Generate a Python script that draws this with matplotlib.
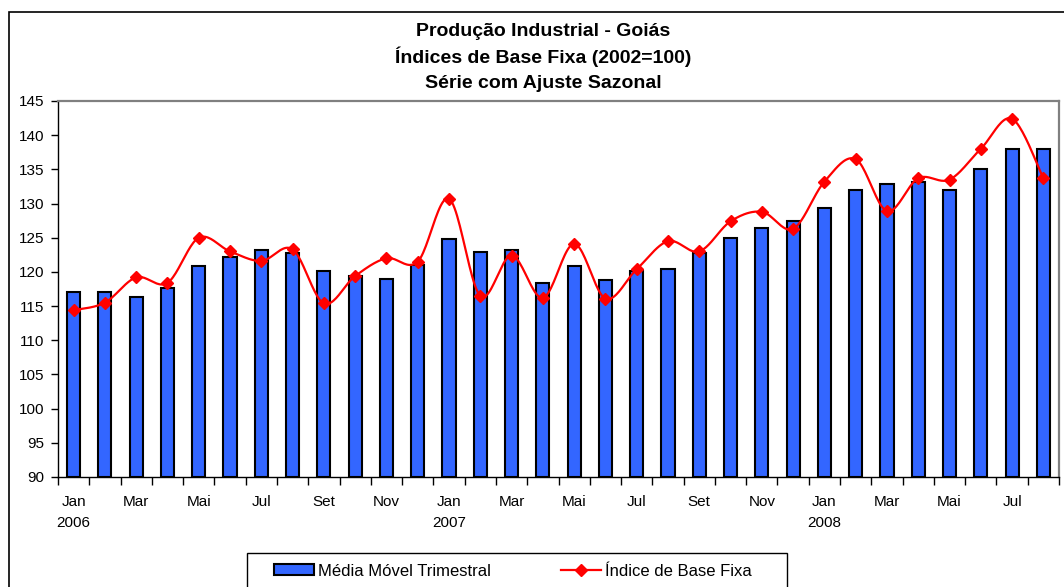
#!/usr/bin/env python3
"""
Produção Industrial - Goiás: média móvel trimestral (barras) e índice de base fixa (linha suavizada).

Output:
- out.png
"""

import numpy as np
import matplotlib
matplotlib.use('Agg')
import matplotlib.pyplot as plt
from matplotlib.patches import Rectangle, Patch
from matplotlib.lines import Line2D

plt.rcParams['font.family'] = ['Liberation Sans', 'DejaVu Sans']

# Jan 2006 .. Ago 2008
months = ['Jan', 'Fev', 'Mar', 'Abr', 'Mai', 'Jun', 'Jul', 'Ago', 'Set', 'Out', 'Nov', 'Dez'] * 2 \
    + ['Jan', 'Fev', 'Mar', 'Abr', 'Mai', 'Jun', 'Jul', 'Ago']
years = ['2006'] * 12 + ['2007'] * 12 + ['2008'] * 8

media_movel = [117.1, 117.1, 116.3, 117.7, 120.9, 122.2, 123.2, 122.8, 120.1, 119.4,
               118.9, 121.0, 124.8, 122.9, 123.2, 118.4, 120.9, 118.8, 120.2, 120.4,
               122.7, 125.0, 126.4, 127.5, 129.4, 132.0, 132.8, 133.1, 132.0, 135.0,
               138.0, 138.0]

indice_base_fixa = [114.4, 115.5, 119.2, 118.4, 125.0, 123.0, 121.6, 123.3, 115.4, 119.4,
                    122.0, 121.5, 130.7, 116.5, 122.4, 116.2, 124.1, 116.1, 120.4, 124.5,
                    123.0, 127.4, 128.8, 126.3, 133.2, 136.5, 128.9, 133.7, 133.5, 138.0,
                    142.4, 133.7]

y_ticks = list(range(90, 146, 5))


def smooth_curve(xs, ys, steps=24):
    """Excel-style smoothed line (Catmull-Rom as cubic Bezier)."""
    xs = np.asarray(xs, float)
    ys = np.asarray(ys, float)
    px = np.concatenate([[xs[0]], xs, [xs[-1]]])
    py = np.concatenate([[ys[0]], ys, [ys[-1]]])
    t = np.linspace(0, 1, steps)[:, None]
    out_x, out_y = [], []
    for i in range(1, len(px) - 2):
        p0 = np.array([px[i], py[i]])
        p3 = np.array([px[i + 1], py[i + 1]])
        c1 = p0 + (np.array([px[i + 1], py[i + 1]]) - np.array([px[i - 1], py[i - 1]])) / 6
        c2 = p3 - (np.array([px[i + 2], py[i + 2]]) - np.array([px[i], py[i]])) / 6
        seg = ((1 - t) ** 3) * p0 + 3 * ((1 - t) ** 2) * t * c1 + 3 * (1 - t) * t ** 2 * c2 + t ** 3 * p3
        out_x.extend(seg[:, 0])
        out_y.extend(seg[:, 1])
    return np.array(out_x), np.array(out_y)


W, H = 1064, 587
fig = plt.figure(figsize=(W / 100, H / 100), dpi=100)
ax = fig.add_axes([58 / W, 1 - 477 / H, (1059 - 58) / W, (477 - 101) / H])

x = np.arange(len(media_movel))
bar_color = '#3366FF'
ax.bar(x, [v - 90 for v in media_movel], bottom=90, width=0.42, color=bar_color,
       edgecolor='black', linewidth=1.5, zorder=2)

sx, sy = smooth_curve(x, indice_base_fixa)
ax.plot(sx, sy, color='#FF0000', linewidth=1.6, zorder=3)
ax.plot(x, indice_base_fixa, linestyle='none', marker='D', markersize=6.5,
        color='#FF0000', zorder=4)

ax.set_xlim(-0.5, len(x) - 0.5)
ax.set_ylim(90, 145)
ax.set_yticks(y_ticks)
ax.tick_params(axis='y', direction='out', length=5, width=1, pad=5, labelsize=11)

# tick marks between categories, labels every two months
ax.set_xticks(np.arange(-0.5, len(x), 1.0))
ax.set_xticklabels([])
ax.tick_params(axis='x', which='major', direction='out', length=6, width=1)
label_pos = x[::2]
labels = [m + ('\n' + y if m == 'Jan' else '') for m, y in zip(months[::2], years[::2])]
ax.set_xticks(label_pos, minor=True)
ax.set_xticklabels(labels, minor=True, linespacing=1.65)
ax.tick_params(axis='x', which='minor', length=0, pad=13, labelsize=11)
for lbl in ax.get_xticklabels(minor=True):
    lbl.set_verticalalignment('top')

for side in ['top', 'right']:
    ax.spines[side].set_color('#808080')
    ax.spines[side].set_linewidth(1.6)
for side in ['left', 'bottom']:
    ax.spines[side].set_color('black')
    ax.spines[side].set_linewidth(1.0)

# outer chart frame (runs off the right and bottom edges)
fig.patches.append(Rectangle((9 / W, -0.2), 1.2, 1.2 - 12 / H, transform=fig.transFigure,
                             fill=False, edgecolor='black', linewidth=1.2))

title_lines = ['Produção Industrial - Goiás', 'Índices de Base Fixa (2002=100)',
               'Série com Ajuste Sazonal']
for line, ypix in zip(title_lines, [31, 57, 83]):
    fig.text(543 / W, 1 - ypix / H, line, ha='center', va='center',
             fontsize=14, fontweight='bold')

# legend with its own frame
fig.patches.append(Rectangle((247 / W, -0.1), (787 - 247) / W, 0.1 + 1 - 553 / H,
                             transform=fig.transFigure, fill=False, edgecolor='black',
                             linewidth=1.0))
handles = [Patch(facecolor=bar_color, edgecolor='black', linewidth=1.5),
           Line2D([], [], color='#FF0000', linewidth=1.6, marker='D', markersize=6.5)]
fig.legend(handles, ['Média Móvel Trimestral', 'Índice de Base Fixa'],
           loc='center left', bbox_to_anchor=(274 / W, 1 - 571 / H), ncol=2,
           frameon=False, fontsize=12, borderpad=0, borderaxespad=0,
           handlelength=2.4, handletextpad=0.25, columnspacing=4.2, handleheight=0.6)

fig.savefig('out.png', dpi=100)
plt.close(fig)
